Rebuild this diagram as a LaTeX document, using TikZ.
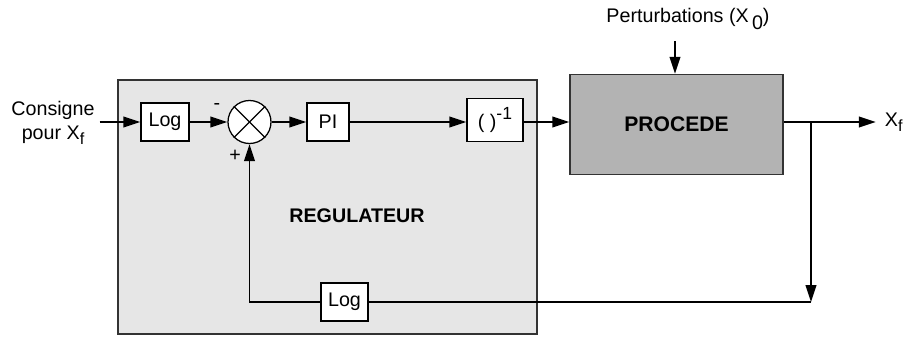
\documentclass[tikz,border=0pt]{standalone}
\usepackage{fontspec}
\setmainfont{Liberation Sans}
\usetikzlibrary{arrows.meta, positioning}
\definecolor{RegGray}{HTML}{E6E6E6}
\definecolor{ProcGray}{HTML}{B3B3B3}
\newcommand{\lowsub}[1]{\raisebox{-0.45ex}{\fontsize{11.5}{11.5}\selectfont #1}}

\begin{document}
\begin{tikzpicture}[
    x=0.025cm, y=-0.025cm,
    every node/.style={font=\fontsize{14}{17}\selectfont},
    block/.style={rectangle, draw, fill=white, line width=0.9pt, inner sep=0pt, minimum width=1.2cm, minimum height=0.95cm},
    zone/.style={rectangle, draw=black!80, fill=RegGray, line width=0.9pt, minimum width=10.475cm, minimum height=6.35cm},
    plant/.style={rectangle, draw=black!80, fill=ProcGray, line width=1pt, minimum width=5.325cm, minimum height=2.5cm},
    summer/.style={circle, draw, fill=white, line width=0.9pt, inner sep=0pt, minimum size=1.075cm},
    arrow/.style={-{Triangle[length=12pt, width=7.5pt]}, line width=1.4pt},
    link/.style={line width=1.4pt}
]
\useasboundingbox (0,0) rectangle (905,336);

% Regulator zone and process
\node[zone] (regul) at (327.5,207) {};
\node[plant] (proc) at (676.5,124.5) {\fontsize{15}{17}\selectfont\bfseries PROCEDE};
\node[font=\fontsize{14}{17}\selectfont\bfseries] (reglabel) at (357,215.5) {REGULATEUR};

% Forward path
\node[align=center] (consigne) at (53,123) {Consigne\\pour X\lowsub{f}};
\node[block] (login) at (165,122) {Log};
\node[summer] (sum) at (249.5,122) {};
\draw[line width=0.9pt] (sum.north west) -- (sum.south east);
\draw[line width=0.9pt] (sum.south west) -- (sum.north east);
\node[block, minimum width=1.05cm] (pi) at (328,122) {PI};
\node[block, minimum width=1.4cm, minimum height=1.075cm] (inv) at (495,120) {( )\raisebox{0.9ex}{\fontsize{12.5}{12.5}\selectfont -1}};

% Signs
\node (minus) at (217,106) {-};
\node (plus) at (235,156) {+};

% Disturbance and output
\node (pert) at (688,19) {Perturbations (X\,\raisebox{-0.6ex}{0})};
\node[anchor=west] (xout) at (880,122) {X\lowsub{f}};
\coordinate (branch) at (811,122);
\coordinate (fbcorner) at (811,302);

% Feedback
\node[block, minimum width=1.175cm] (logfb) at (344.5,302) {Log};

% Arrows
\draw[arrow] (consigne.east |- login.west) -- (login.west);
\draw[arrow] (login) -- (sum);
\draw[arrow] (sum) -- (pi);
\draw[arrow] (pi.east |- sum.east) -- (pi.east |- sum.east -| inv.west);
\draw[arrow] (inv.east |- branch) -- (inv.east |- branch -| proc.west);
\draw[arrow, shorten <=5pt] (pert.south -| 675,0) -- (proc.north -| 675,0);
\draw[arrow, shorten >=3pt] (proc.east |- branch) -- (xout.west);
\draw[arrow] (branch) -- (fbcorner);
\draw[link] (fbcorner) -- (logfb);
\draw[arrow] (logfb) -| (sum.south);

\end{tikzpicture}
\end{document}
